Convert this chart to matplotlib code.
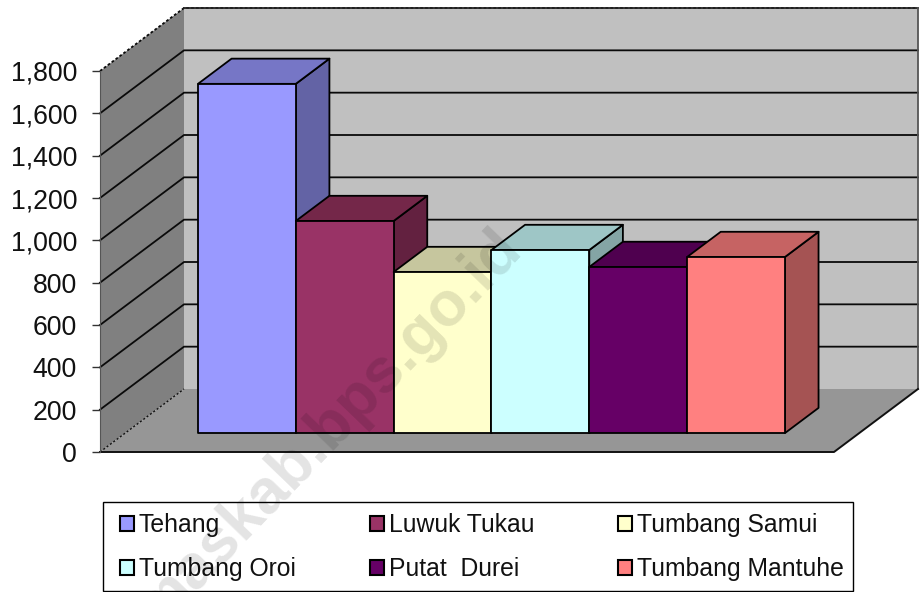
import matplotlib
matplotlib.use("Agg")
import matplotlib.pyplot as plt
from matplotlib.patches import Patch, Polygon, Rectangle
from matplotlib.ticker import FuncFormatter

categories = ["Tehang", "Luwuk Tukau", "Tumbang Samui", "Tumbang Oroi", "Putat  Durei", "Tumbang Mantuhe"]
values = [1650, 1002, 761, 865, 785, 832]
front_colors = ["#9999FF", "#993366", "#FFFFCC", "#CCFFFF", "#660066", "#FF8080"]
top_colors = ["#7676C6", "#742749", "#C6C69E", "#9EC6C6", "#4F004F", "#C66363"]
side_colors = ["#6363A5", "#632140", "#A5A584", "#84A5A5", "#420042", "#A55353"]
y_ticks = list(range(0, 2000, 200))

W, H = 921, 592
plt.rcParams["font.family"] = ["Liberation Sans", "DejaVu Sans"]
fig = plt.figure(figsize=(W / 100, H / 100), dpi=100)
ax = fig.add_axes([100 / W, 1 - 452 / H, (834 - 100) / W, (452 - 71) / H])
X0, X1 = -0.744, 6.759
ax.set_xlim(X0, X1)
ax.set_ylim(0, 1800)
ax.patch.set_visible(False)
for s in ["top", "right", "bottom"]:
    ax.spines[s].set_visible(False)
ax.spines["left"].set_color("#555555")
ax.spines["left"].set_linewidth(0.8)
ax.set_xticks([])
ax.set_yticks(y_ticks)
ax.yaxis.set_major_formatter(FuncFormatter(lambda v, _: f"{int(v):,}"))
ax.tick_params(axis="y", length=5.5, width=1, color="#333333", labelsize=19.2,
               pad=11, labelcolor="#111111")

DX = 84 / 97.83
DY = 63 / (381 / 1800)
VMAX = y_ticks[-1]


def pr(x, v, d):
    return (x + d * DX, v + d * DY)


def poly(pts, fc, ec="black", lw=1.3, z=2, **kw):
    ax.add_patch(Polygon(pts, closed=True, facecolor=fc, edgecolor=ec, linewidth=lw,
                         zorder=z, clip_on=False, joinstyle="round", **kw))


# walls and floor
poly([pr(X0, 0, 1), pr(X1, 0, 1), pr(X1, VMAX, 1), pr(X0, VMAX, 1)], "#C0C0C0", ec="none", lw=0, z=1)
poly([pr(X0, 0, 0), pr(X0, 0, 1), pr(X0, VMAX, 1), pr(X0, VMAX, 0)], "#808080", ec="none", lw=0, z=1)
poly([pr(X0, 0, 0), pr(X1, 0, 0), pr(X1, 0, 1), pr(X0, 0, 1)], "#969696", ec="none", lw=0, z=1.1)
for v in y_ticks[1:]:
    xs, ys = zip(pr(X0, v, 0), pr(X0, v, 1), pr(X1, v, 1))
    ax.plot(xs, ys, color="#0a0a0a", lw=1.3, zorder=1.5, clip_on=False,
            ls="-" if v < VMAX else (0, (1.5, 1.2)))
xs, ys = zip(pr(X0, VMAX, 1), pr(X1, VMAX, 1))
ax.plot(xs, ys, color="#222222", lw=1.3, zorder=1.5, clip_on=False)
xs, ys = zip(pr(X1, 0, 1), pr(X1, VMAX, 1))
ax.plot(xs, ys, color="#555555", lw=1.3, zorder=1.5, clip_on=False)
xs, ys = zip(pr(X0, 0, 0), pr(X1, 0, 0), pr(X1, 0, 1))
ax.plot(xs, ys, color="#111111", lw=1.4, zorder=1.5, clip_on=False)
xs, ys = zip(pr(X0, 0, 0), pr(X0, 0, 1))
ax.plot(xs, ys, color="#111111", lw=1.0, ls=(0, (1.5, 1.5)), zorder=1.5, clip_on=False)

# bars
D0, D1 = 0.30, 0.70
for i, v in enumerate(values):
    a, b = float(i), float(i + 1)
    poly([pr(b, 0, D0), pr(b, 0, D1), pr(b, v, D1), pr(b, v, D0)], side_colors[i], z=3 + i)
    poly([pr(a, v, D0), pr(b, v, D0), pr(b, v, D1), pr(a, v, D1)], top_colors[i], z=3 + i)
    poly([pr(a, 0, D0), pr(b, 0, D0), pr(b, v, D0), pr(a, v, D0)], front_colors[i], z=3 + i)

# legend: frame plus one frameless legend per column, filled row by row
fig.add_artist(Rectangle((103 / W, 1 - 591 / H), (853 - 103) / W, (591 - 502) / H,
                         transform=fig.transFigure, facecolor="white", edgecolor="black",
                         linewidth=1.0, zorder=9))
for col, xpx in enumerate((120, 370, 618)):
    idx = [col, col + 3]
    handles = [Patch(facecolor=front_colors[j], edgecolor="black", linewidth=1.5) for j in idx]
    leg = fig.legend(handles, [categories[j] for j in idx], ncol=1, loc="center left",
                     bbox_to_anchor=(xpx / W, 1 - 547 / H), fontsize=17.8, frameon=False,
                     handlelength=0.57, handleheight=0.55, handletextpad=0.18,
                     labelspacing=0.82, borderpad=0, borderaxespad=0, labelcolor="#111111")
    leg.set_zorder(10)

# watermark
fig.text(524 / W, 1 - 250 / H, "maskab.bps.go.id", fontsize=45, fontweight="bold",
         color="black", alpha=0.11, rotation=46, ha="right", va="baseline",
         rotation_mode="anchor", zorder=20)

fig.savefig("out.png", dpi=100)
